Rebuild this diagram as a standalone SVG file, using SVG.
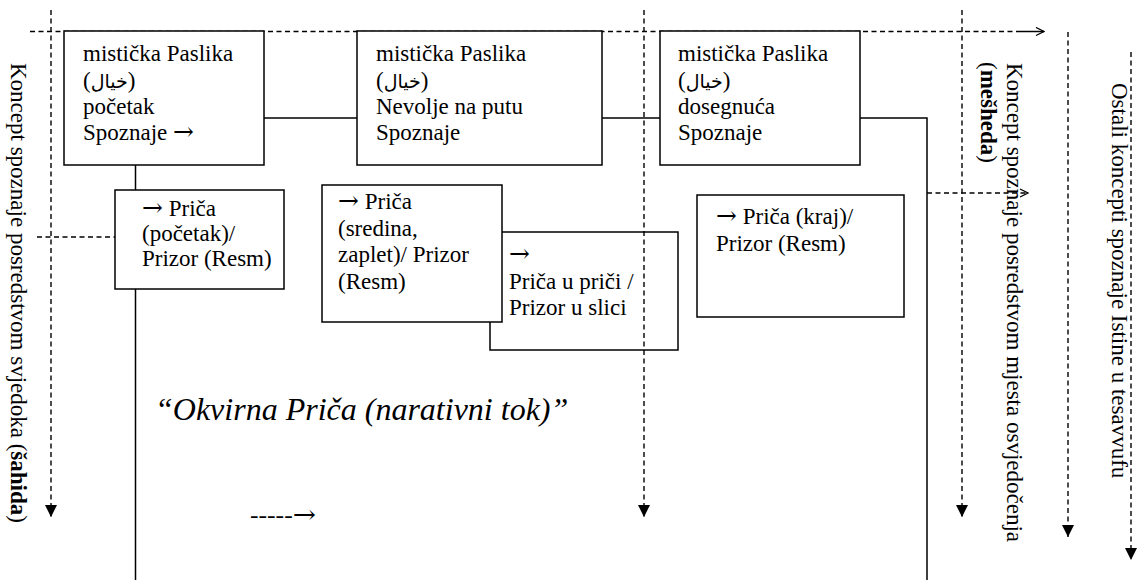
<svg xmlns="http://www.w3.org/2000/svg" width="1145" height="580" viewBox="0 0 1145 580">
<style>
text{font-family:"Liberation Serif","DejaVu Sans",serif;font-size:23px;fill:#000}
.box{fill:#fff;stroke:#000;stroke-width:1.5}
.solid{fill:none;stroke:#000;stroke-width:1.5}
.dash{fill:none;stroke:#000;stroke-width:1.4;stroke-dasharray:5 3.5}
.ar{font-size:19px}
.arr{font-family:"DejaVu Serif",serif;font-size:25px}
.b{font-weight:bold}
.title{font-size:32px;font-style:italic}
</style>
<defs>
<marker id="tri" viewBox="0 0 12 12" refX="12" refY="6" markerWidth="12" markerHeight="12" markerUnits="userSpaceOnUse" orient="auto">
<path d="M0,0 L12,6 L0,12 Z" fill="#000"/>
</marker>
<marker id="open" viewBox="0 0 10 10" refX="9" refY="5" markerWidth="10" markerHeight="10" markerUnits="userSpaceOnUse" orient="auto">
<path d="M1,1 L9,5 L1,9" fill="none" stroke="#000" stroke-width="1.3"/>
</marker>
</defs>
<rect width="1145" height="580" fill="#fff"/>
<g id="connectors">
<path class="dash" d="M30,31.5 H1018" />
<path class="solid" d="M1018,31.5 H1044" marker-end="url(#open)"/>
<path class="solid" d="M264,118 H357"/>
<path class="solid" d="M602,118 H660"/>
<path class="solid" d="M860,118 H927 V580"/>
<path class="solid" d="M135.5,165 V190"/>
<path class="solid" d="M135.5,289 V580"/>
<path class="dash" d="M37,237 H115"/>
<path class="dash" d="M927,193 H1028" marker-end="url(#open)"/>
</g>
<g id="n1">
<rect class="box" x="64" y="31" width="200" height="134"/>
<text x="83" y="61">mistička Paslika</text>
<text x="83" y="87.5">(<tspan class="ar">خيال</tspan>)</text>
<text x="83" y="113.5">početak</text>
<text x="83" y="140">Spoznaje <tspan class="arr">→</tspan></text>
</g>
<g id="n2">
<rect class="box" x="357" y="31" width="245" height="134"/>
<text x="376" y="61">mistička Paslika</text>
<text x="376" y="87.5">(<tspan class="ar">خيال</tspan>)</text>
<text x="376" y="113.5">Nevolje na putu</text>
<text x="376" y="140">Spoznaje</text>
</g>
<g id="n3">
<rect class="box" x="660" y="31" width="200" height="134"/>
<text x="678" y="61">mistička Paslika</text>
<text x="678" y="87.5">(<tspan class="ar">خيال</tspan>)</text>
<text x="678" y="113.5">dosegnuća</text>
<text x="678" y="140">Spoznaje</text>
</g>
<g id="n4">
<rect class="box" x="115" y="190" width="169" height="99"/>
<text x="142" y="216"><tspan class="arr">→</tspan> Priča</text>
<text x="142" y="241">(početak)/</text>
<text x="142" y="266">Prizor (Resm)</text>
</g>
<g id="n6">
<rect class="box" x="490" y="232" width="188" height="118"/>
<text x="509" y="262"><tspan class="arr">→</tspan></text>
<text x="509" y="289">Priča u priči /</text>
<text x="509" y="315">Prizor u slici</text>
</g>
<g id="n5">
<rect class="box" x="322" y="185" width="180" height="137"/>
<text x="338" y="209"><tspan class="arr">→</tspan> Priča</text>
<text x="338" y="235.5">(sredina,</text>
<text x="338" y="262">zaplet)/ Prizor</text>
<text x="338" y="288.5">(Resm)</text>
</g>
<g id="n7">
<rect class="box" x="697" y="195" width="207" height="122"/>
<text x="716" y="224"><tspan class="arr">→</tspan> Priča (kraj)/</text>
<text x="716" y="251">Prizor (Resm)</text>
</g>
<g id="guides">
<path class="dash" d="M51,10 V517" marker-end="url(#tri)"/>
<path class="dash" d="M644,10 V517" marker-end="url(#tri)"/>
<path class="dash" d="M962,10 V517" marker-end="url(#tri)"/>
<path class="dash" d="M1068,32 V537" marker-end="url(#tri)"/>
<path class="dash" d="M1131,52 V560" marker-end="url(#tri)"/>
</g>
<g id="labels">
<text transform="translate(11,63) rotate(90)">Koncept spoznaje posredstvom svjedoka (<tspan class="b">šahida</tspan>)</text>
<text transform="translate(1007,63) rotate(90)">Koncept spoznaje posredstvom mjesta osvjedočenja</text>
<text transform="translate(980.5,62) rotate(90)">(<tspan class="b">mešheda</tspan>)</text>
<text transform="translate(1112,83) rotate(90)">Ostali koncepti spoznaje Istine u tesavvufu</text>
<text class="title" x="155" y="420">“Okvirna Priča (narativni tok)”</text>
<text x="250" y="523" textLength="66" lengthAdjust="spacingAndGlyphs">-----<tspan class="arr">→</tspan></text>
</g>
</svg>
